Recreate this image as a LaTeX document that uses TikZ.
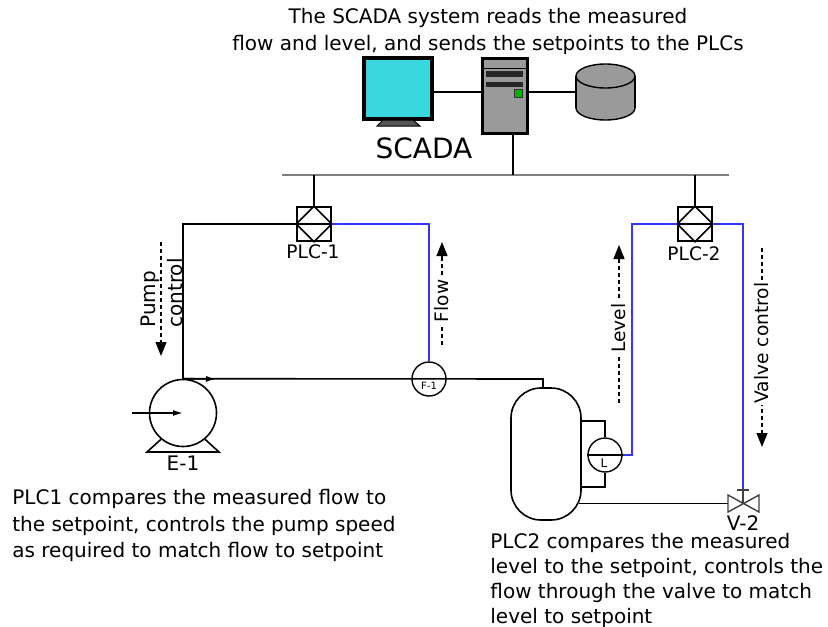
\documentclass[tikz,border=0pt]{standalone}
\usepackage{fontspec}
\setmainfont{DejaVu Sans}
\usepackage[dvipsnames]{xcolor}
\definecolor{ScreenCyan}{HTML}{3AD7DE}
\definecolor{CaseGray}{HTML}{9A9A9A}
\definecolor{StandGray}{HTML}{555555}
\definecolor{BusGray}{HTML}{7F7F7F}
\definecolor{SignalBlue}{HTML}{3434FF}
\definecolor{LedGreen}{HTML}{00B400}
\usetikzlibrary{calc}
\usetikzlibrary{arrows.meta}
\newcommand{\plcsize}{17pt}
\newcommand{\instrsize}{17pt}
\newcommand{\pumpsize}{33.5pt}
\newcommand{\txtfont}{\fontsize{10}{13.25}\selectfont}
\newcommand{\lblfont}{\fontsize{9.3}{12}\selectfont}
\newcommand{\tinyfont}{\fontsize{5}{6}\selectfont}
\tikzset{
  pipe/.style={draw=black, line width=0.8pt},
  signal/.style={draw=SignalBlue, line width=0.8pt},
  plcbox/.style={draw, line width=0.8pt, minimum size=\plcsize, inner sep=0pt},
  instr/.style={draw, circle, line width=0.7pt, minimum size=\instrsize, inner sep=0pt},
  tank/.style={draw, line width=0.8pt, minimum width=35pt, minimum height=66pt,
    rounded corners=15pt, inner sep=0pt},
  dashline/.style={dash pattern=on 2pt off 1.5pt, line width=0.6pt},
  dashtip/.style={solid, line width=0.6pt, -{Triangle[length=7pt,width=5.5pt]}},
  rotlbl/.style={rotate=90, fill=white, inner sep=1pt, font=\lblfont},
}

\begin{document}
\begin{tikzpicture}[x=0.5pt,y=-0.5pt,font=\txtfont]
    \useasboundingbox (0,0) rectangle (828,626);
    % title
    \node[align=center, font=\fontsize{10}{13.5}\selectfont] (title) at (488,31)
      {The SCADA system reads the measured\\flow and level, and sends the setpoints to the PLCs};
    \begin{scope}
      % monitor
      \node[draw, line width=1.6pt, fill=ScreenCyan, minimum width=34pt,
        minimum height=30.5pt, inner sep=0pt] (mon) at (398,88.5) {};
      \filldraw[fill=StandGray, line width=0.5pt]
        (383,120) -- (413,120) -- (420,126) -- (377,126) -- cycle;
      \node[font=\fontsize{14}{16}\selectfont] (scada) at (424,148) {SCADA};
      % server
      \node[draw, line width=1.6pt, fill=CaseGray, minimum width=22.5pt,
        minimum height=37.5pt, inner sep=0pt] (srv) at (505,96) {};
      \draw[line width=0.4pt] (484,68) -- (526,68);
      \fill[black!85] (486,71) rectangle (523,77);
      \fill[black!85] (486,82) rectangle (523,87);
      \filldraw[fill=LedGreen, draw=black!80, line width=0.5pt] (514,90) rectangle (522,97);
      % disk
      \coordinate (dskL) at (576,92);
      \filldraw[fill=CaseGray, line width=0.7pt] (605.5,108) ellipse [x radius=14.75pt, y radius=6pt];
      \fill[CaseGray] (576,76) rectangle (635,108);
      \draw[line width=0.7pt] (576,76) -- (576,108) (635,76) -- (635,108);
      \filldraw[fill=CaseGray, line width=0.7pt] (605.5,76) ellipse [x radius=14.75pt, y radius=6pt];
      \draw[line width=0.6pt] (mon.east |- dskL) -- (srv.west |- dskL);
      \draw[line width=0.6pt] (srv.east |- dskL) -- (dskL);
    \end{scope}
    % network bus
    \coordinate (busL) at (282,175);
    \coordinate (busR) at (729,175);
    \draw[draw=BusGray, line width=1.3pt] (busL) -- (busR);
    \draw[line width=0.7pt] ([xshift=4pt]srv.south) -- ([xshift=4pt]srv.south |- busL);
    % plcs
    \node[plcbox] (plc1) at (314,224) {};
    \node[plcbox] (plc2) at (695,224) {};
    \foreach \p in {plc1,plc2} {
      \draw[line width=0.8pt] (\p.north) -- (\p.east) -- (\p.south) -- (\p.west) -- cycle;
      \draw[line width=0.8pt] (\p.west) -- (\p.east);
      \draw[line width=0.7pt] (\p.north) -- (\p.north |- busL);
    }
    \node[font=\lblfont] (plc1lbl) at (313,252) {PLC-1};
    \node[font=\lblfont] (plc2lbl) at (694,254) {PLC-2};
    % pump
    \node[draw, circle, line width=0.8pt, minimum size=\pumpsize, inner sep=0pt] (e1) at (183,413) {};
    \draw[pipe] (e1.230) -- (147,452) -- (219,452) -- (e1.310);
    \draw[pipe, -{Latex[length=5pt,width=3pt]}] (132,413) -- (e1.center);
    \node (e1lbl) at (183,463) {E-1};
    % main line, flow meter and tank
    \node[instr] (fi) at (429,379) {};
    \node[font=\tinyfont, inner sep=0pt] (filbl) at (429,386) {F-1};
    \node[tank] (tk) at (546,454) {};
    \coordinate (nozzle) at (543,379);
    \draw[pipe] (e1.north) -- (nozzle) -- (nozzle |- tk.north);
    \draw[pipe, -{Latex[length=5pt,width=3pt]}] (e1.north) -- (216,379);
    % level gauge
    \node[instr] (li) at (605,455) {};
    \node[font=\fontsize{6}{7}\selectfont, inner sep=0pt] (lilbl) at (604,463) {L};
    \draw[pipe] (li.west) -- (li.east);
    \draw[pipe] (tk.east |- 0,421) -| (li.north);
    \draw[pipe] (li.south) |- (tk.east |- 0,487);
    % valve
    \coordinate (v2) at (743,503.5);
    \coordinate (v2top) at (743,489);
    \draw[pipe] ([xshift=-1.5pt]tk.east |- v2) -- (728,503.5);
    \draw[line width=0.7pt, draw=black!75] (728,495) -- (728,512) -- (759,495) -- (759,512) -- cycle;
    \draw[line width=0.7pt, draw=black!75] (v2) -- (v2top);
    \draw[line width=0.7pt, draw=black!75] (737,490) -- (749,490);
    \node (v2lbl) at (743,523) {V-2};
    % control and measurement lines
    \draw[line width=0.7pt] (plc1.west) -| (e1.north);
    \draw[signal] (fi.north) |- (plc1.east);
    \draw[signal] (li.east) -- (632,455) |- (plc2.west);
    \draw[signal] (plc2.east) -| (v2top);
    % signal direction labels
    \draw[dashline] (161,242) -- (161,342);
    \draw[dashtip] (161,340) -- (161,356);
    \node[rotate=90, align=left, inner sep=0pt] (pumplbl) at (162,293) {Pump\\control};
    \draw[dashline] (442,345) -- (442,256);
    \draw[dashtip] (442,258) -- (442,242);
    \node[rotlbl] (flowlbl) at (442,301) {Flow};
    \draw[dashline] (619,403) -- (619,259);
    \draw[dashtip] (619,261) -- (619,245);
    \node[rotlbl] (levellbl) at (619,328) {Level};
    \draw[dashline] (762,248) -- (762,433);
    \draw[dashtip] (762,431) -- (762,447);
    \node[rotlbl] (valvelbl) at (762,343) {Valve control};
    % notes
    \node[align=left, anchor=north west, inner sep=0pt] (note1) at (12,489)
      {PLC1 compares the measured flow to\\the setpoint, controls the pump speed\\as required to match flow to setpoint};
    \node[align=left, anchor=north west, inner sep=0pt, font=\fontsize{10}{12.5}\selectfont] (note2) at (490,533)
      {PLC2 compares the measured\\level to the setpoint, controls the\\flow through the valve to match\\level to setpoint};
\end{tikzpicture}
\end{document}
